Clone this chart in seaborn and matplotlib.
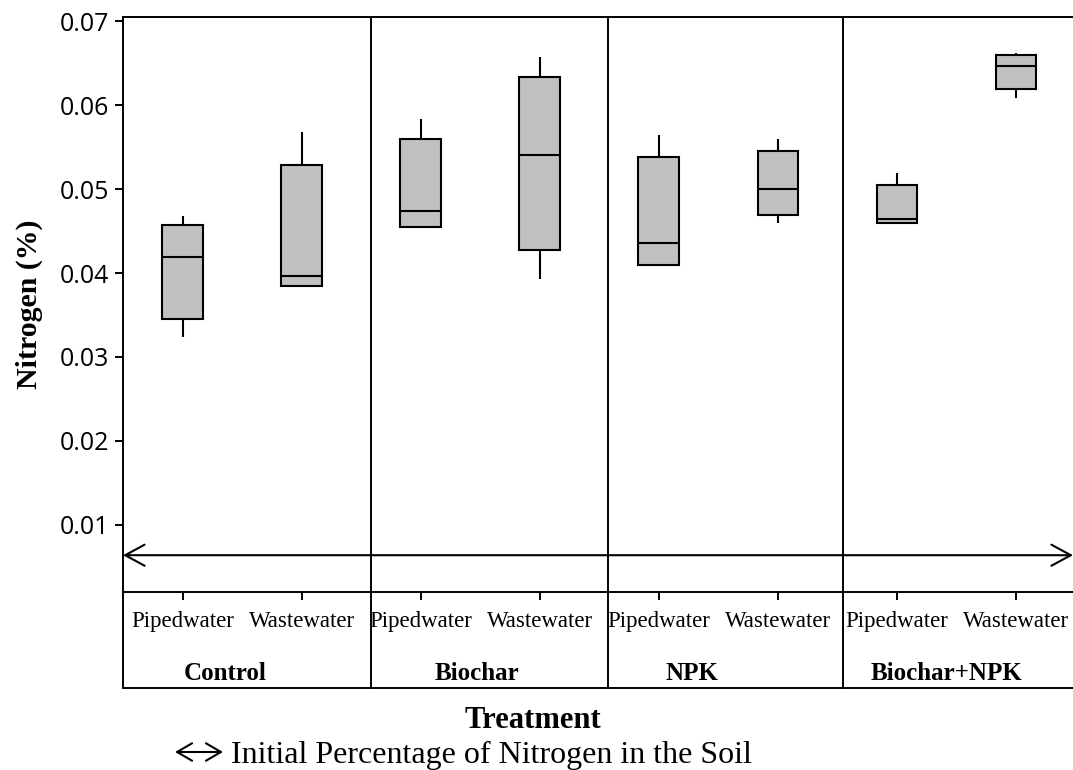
import numpy as np
import pandas as pd
import matplotlib
matplotlib.use("Agg")
import matplotlib.pyplot as plt
import seaborn as sns
from matplotlib.transforms import blended_transform_factory
from matplotlib.ticker import MultipleLocator, FormatStrFormatter

# ---------------- data ----------------
treatments = ["Control", "Biochar", "NPK", "Biochar+NPK"]
water_types = ["Pipedwater", "Wastewater"]
# five-number summaries, box order: Control-Pipe, Control-Waste, Biochar-Pipe, Biochar-Waste,
# NPK-Pipe, NPK-Waste, Biochar+NPK-Pipe, Biochar+NPK-Waste
box_min = [0.0324, 0.0384, 0.0455, 0.0393, 0.0410, 0.0460, 0.0460, 0.0608]
box_q1 = [0.0345, 0.0384, 0.0455, 0.0427, 0.0410, 0.0469, 0.0460, 0.0619]
box_median = [0.0419, 0.0396, 0.0474, 0.0541, 0.0436, 0.0500, 0.0464, 0.0647]
box_q3 = [0.0457, 0.0529, 0.0560, 0.0633, 0.0538, 0.0545, 0.0505, 0.0660]
box_max = [0.0468, 0.0568, 0.0583, 0.0657, 0.0564, 0.0559, 0.0519, 0.0662]
initial_nitrogen = 0.0064

# build a long table from the summaries
rows = []
keys = []
k = 0
for t in treatments:
    for w in water_types:
        key = f"{t} | {w}"
        keys.append(key)
        for v in (box_min[k], box_q1[k], box_median[k], box_q3[k], box_max[k]):
            rows.append({"group": key, "treatment": t, "water": w, "nitrogen": v})
        k += 1
df = pd.DataFrame(rows)

# ---------------- style ----------------
sns.set_theme(style="ticks")
plt.rcParams["font.family"] = ["Liberation Serif", "DejaVu Serif"]
plt.rcParams["axes.linewidth"] = 1.4
for key_rc in ("text.color", "axes.labelcolor", "xtick.color", "ytick.color",
               "axes.edgecolor"):
    plt.rcParams[key_rc] = "black"

fig = plt.figure(figsize=(10.73, 7.70), dpi=100)
ax = fig.add_axes([123 / 1073, 1 - 592 / 770, 1 - 123 / 1073, (592 - 17) / 770])

sns.boxplot(data=df, x="group", y="nitrogen", order=keys, width=0.34,
            whis=(0, 100), showcaps=False, color="#c0c0c0", saturation=1,
            linecolor="black", linewidth=1.5, fliersize=0, ax=ax)

ax.set_xlim(-0.5, 7.48)
ax.set_ylim(0.00202, 0.07048)
ax.yaxis.set_major_locator(MultipleLocator(0.01))
ax.yaxis.set_major_formatter(FormatStrFormatter("%.2f"))
ax.set_xticks(range(len(keys)))
ax.set_xticklabels([w for t in treatments for w in water_types])

for lab in ax.get_yticklabels():
    lab.set_fontfamily(["Open Sans", "DejaVu Sans"])
    lab.set_fontsize(18)
    lab.set_color("black")
for lab in ax.get_xticklabels():
    lab.set_fontfamily(["Liberation Serif", "DejaVu Serif"])
    lab.set_fontsize(16.5)
    lab.set_color("black")

ax.tick_params(axis="both", direction="out", length=5.8, width=1.4, color="black",
               labelcolor="black")
ax.tick_params(axis="x", pad=8)
ax.tick_params(axis="y", pad=4)

ax.spines["right"].set_visible(False)
for s in ("left", "top", "bottom"):
    ax.spines[s].set_color("black")
    ax.spines[s].set_linewidth(1.4)

ax.set_xlabel("")
ax.set_ylabel("Nitrogen (%)", fontsize=21.5, fontweight="bold", color="black",
              fontfamily=["Liberation Serif", "DejaVu Serif"], labelpad=12)

trans = blended_transform_factory(ax.transData, ax.transAxes)
table_bottom = (592 - 688) / 575

# panel separators and label table frame
separators = [1.58, 3.57, 5.55]
for sx in separators:
    ax.plot([sx, sx], [table_bottom, 1.0], color="black", lw=1.4,
            transform=trans, clip_on=False)
ax.plot([-0.5, -0.5], [table_bottom, 0], color="black", lw=1.4,
        transform=trans, clip_on=False)
ax.plot([-0.5, 7.6], [table_bottom, table_bottom], color="black", lw=1.4,
        transform=trans, clip_on=False)

# treatment group labels
group_label_x = [0.36, 2.47, 4.28, 6.42]
for gx, t in zip(group_label_x, treatments):
    ax.text(gx, (592 - 680) / 575, t, transform=trans, ha="center", va="baseline",
            fontsize=18, fontweight="bold", color="black")

# initial nitrogen arrow
ax.annotate("", xy=(7.48, initial_nitrogen), xytext=(-0.5, initial_nitrogen),
            xycoords="data", textcoords="data",
            arrowprops=dict(arrowstyle="<->,head_length=0.7,head_width=0.38",
                            mutation_scale=20, lw=1.5, color="black",
                            shrinkA=0, shrinkB=0), annotation_clip=False)

# axis title and legend line
fig.text(533 / 1073, 1 - 728 / 770, "Treatment", ha="center", va="baseline",
         fontsize=22, fontweight="bold", color="black")
ly = 1 - 752 / 770
ax.annotate("", xy=(223 / 1073, ly), xytext=(175 / 1073, ly),
            xycoords="figure fraction", textcoords="figure fraction",
            arrowprops=dict(arrowstyle="<->,head_length=0.6,head_width=0.35",
                            mutation_scale=18, lw=1.5, color="black",
                            shrinkA=0, shrinkB=0), annotation_clip=False)
fig.text(231 / 1073, 1 - 763 / 770, "Initial Percentage of Nitrogen in the Soil",
         ha="left", va="baseline", fontsize=23, color="black")

fig.savefig("out.png", dpi=100)
